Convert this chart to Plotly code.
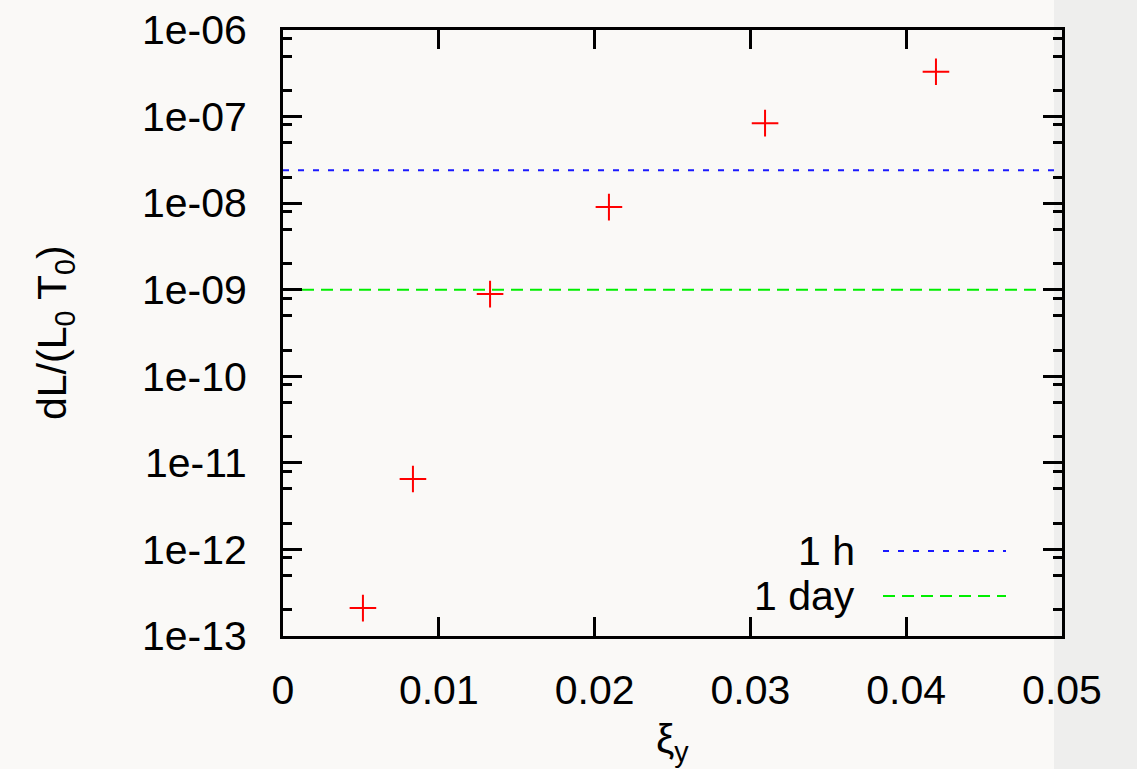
import plotly.graph_objects as go

# ---- data ----
xi_values = [0.00513, 0.00834, 0.01329, 0.02092, 0.03094, 0.04191]
dL_values = [2.1e-13, 6.5e-12, 8.9e-10, 9.0e-9, 8.4e-8, 3.3e-7]

level_names = ["1 h", "1 day"]
level_values = [2.4e-8, 1.0e-9]
level_colors = ["#1a1aff", "#00ee00"]
level_dashes = ["6px,9px", "12px,7px"]

x_ticks = [0, 0.01, 0.02, 0.03, 0.04, 0.05]
x_ticktext = ["0", "0.01", "0.02", "0.03", "0.04", "0.05"]
y_exponents = [-13, -12, -11, -10, -9, -8, -7, -6]
y_ticks = [10.0 ** e for e in y_exponents]
y_ticktext = ["1e-%02d" % (-e) for e in y_exponents]
y_minor_mult = [2, 5, 8]
y_minor = [m * 10.0 ** e for e in y_exponents[:-1] for m in y_minor_mult]

FONT = "Liberation Sans, Arial, Helvetica, sans-serif"
FS = 41
W, H = 1137, 769
L, R, T, B = 283, 1062, 30, 636


def px_x(px):
    return (px - L) / (R - L)


def px_y(py):
    return (B - py) / (B - T)


fig = go.Figure()

# horizontal reference levels
for name, val, col, dash in zip(level_names, level_values, level_colors, level_dashes):
    fig.add_trace(go.Scatter(
        x=[x_ticks[0], x_ticks[-1]], y=[val, val], mode="lines",
        line=dict(color=col, width=2, dash=dash), showlegend=False, hoverinfo="skip"))

# data points
fig.add_trace(go.Scatter(
    x=xi_values, y=dL_values, mode="markers",
    marker=dict(symbol="cross-thin", size=19, line=dict(color="#ff0000", width=2), color="#ff0000"),
    showlegend=False))

shapes = []
annotations = []
# grey strip on the right side of the page
shapes.append(dict(type="rect", xref="paper", yref="paper",
                   x0=px_x(1054), x1=px_x(1140), y0=px_y(772), y1=px_y(-3),
                   fillcolor="#eeeeed", line=dict(width=0), layer="below"))

# manual key (text left of sample, gnuplot style)
key_y = [551, 596]
for name, col, dash, ky in zip(level_names, level_colors, level_dashes, key_y):
    annotations.append(dict(xref="paper", yref="paper", x=px_x(857), y=px_y(ky),
                            xanchor="right", yanchor="middle", text=name, showarrow=False,
                            font=dict(family=FONT, size=FS, color="black")))
    shapes.append(dict(type="line", xref="paper", yref="paper",
                       x0=px_x(883), x1=px_x(1006), y0=px_y(ky), y1=px_y(ky),
                       line=dict(color=col, width=2, dash=dash)))

# axis titles
annotations.append(dict(xref="paper", yref="paper", x=0, y=0.5, xshift=55 - L,
                        xanchor="center", yanchor="middle", textangle=-90,
                        text="dL/(L<sub>0</sub> T<sub>0</sub>)", showarrow=False,
                        font=dict(family=FONT, size=FS, color="black")))
annotations.append(dict(xref="paper", yref="paper", x=px_x(672), y=0, yshift=-(714 - B),
                        xanchor="center", yanchor="top",
                        text="ξ<sub>y</sub>", showarrow=False,
                        font=dict(family=FONT, size=FS, color="black")))

fig.update_layout(
    width=W, height=H,
    margin=dict(l=L, r=W - R, t=T, b=H - B, autoexpand=False),
    paper_bgcolor="#faf9f7", plot_bgcolor="rgba(0,0,0,0)",
    font=dict(family=FONT, size=FS, color="black"),
    shapes=shapes, annotations=annotations, showlegend=False,
)
fig.update_xaxes(
    range=[0, 0.05], tickvals=x_ticks, ticktext=x_ticktext,
    ticks="inside", ticklen=19, tickwidth=2.5, tickcolor="black",
    showline=True, linewidth=3, linecolor="black", mirror="ticks",
    showgrid=False, zeroline=False, ticklabelstandoff=16,
    tickfont=dict(family=FONT, size=FS, color="black"),
)
fig.update_yaxes(
    type="log", range=[-13, -6], tickvals=y_ticks, ticktext=y_ticktext,
    ticks="inside", ticklen=19, tickwidth=2.5, tickcolor="black",
    minor=dict(tickvals=y_minor, ticks="inside", ticklen=9, tickwidth=2.5, tickcolor="black", showgrid=False),
    showline=True, linewidth=3, linecolor="black", mirror="ticks",
    showgrid=False, zeroline=False, ticklabelstandoff=25,
    tickfont=dict(family=FONT, size=FS, color="black"),
)

fig.write_html("out.html", config={"displayModeBar": False},
               post_script="document.body.style.margin='0px';document.body.style.padding='0px';")
